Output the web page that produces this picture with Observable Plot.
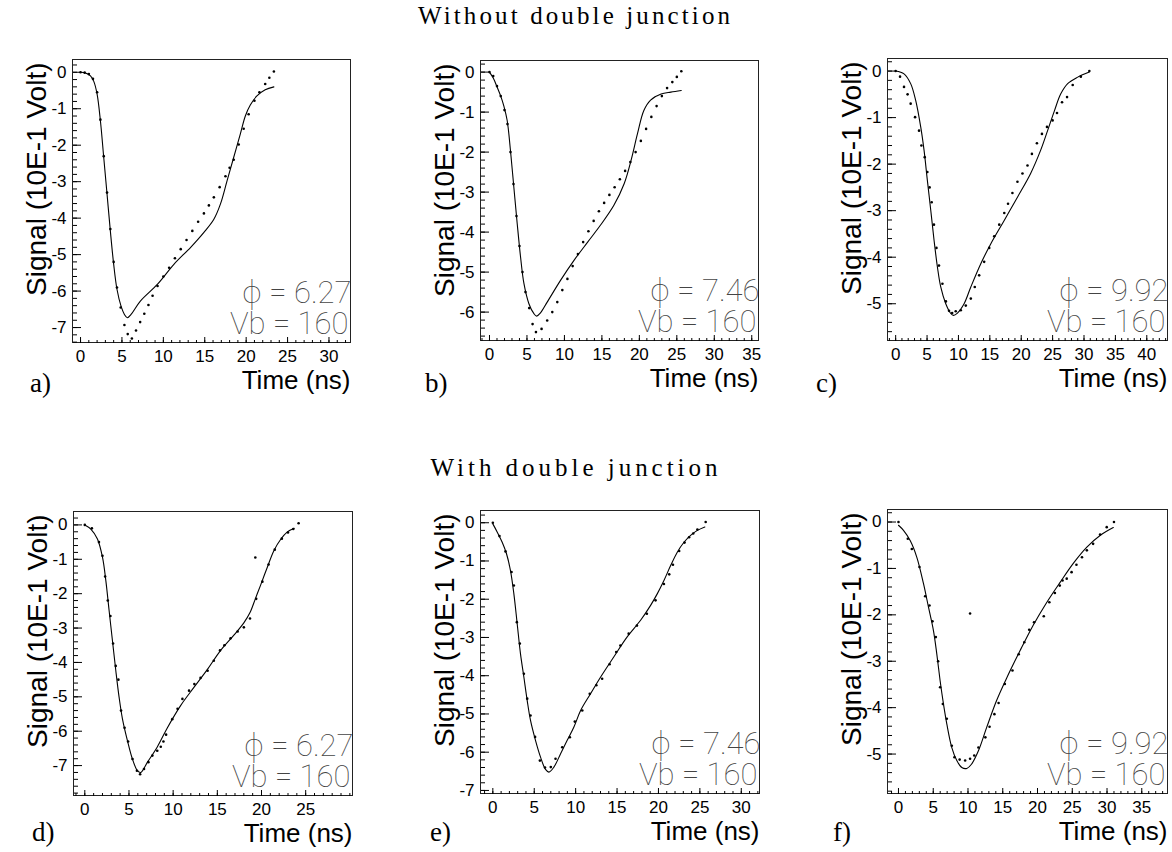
<!DOCTYPE html>
<html><head><meta charset="utf-8">
<script src="https://cdn.jsdelivr.net/npm/d3@7"></script>
<script src="https://cdn.jsdelivr.net/npm/@observablehq/plot@0.6"></script>
<style>
body{margin:0;background:#fff}
#root{position:relative;width:1172px;height:852px;overflow:hidden;background:#fff}
#root svg.panel{position:absolute}
</style>
</head><body><div id="root"></div>
<script>
// ---------- data ----------
const titleTop = "Without double junction";
const titleBottom = "With double junction";
const yLabel = "Signal (10E-1 Volt)";
const xLabel = "Time (ns)";
const panelLetters = ["a)","b)","c)","d)","e)","f)"];
const phiValues = ["6.27","7.46","9.92","6.27","7.46","9.92"];
const vbValues = ["160","160","160","160","160","160"];

const aXTicks = [0,5,10,15,20,25,30];
const bXTicks = [0,5,10,15,20,25,30,35];
const cXTicks = [0,5,10,15,20,25,30,35,40];
const dXTicks = [0,5,10,15,20,25];
const eXTicks = [0,5,10,15,20,25,30];
const fXTicks = [0,5,10,15,20,25,30,35];
const aYTicks = [0,-1,-2,-3,-4,-5,-6,-7];
const bYTicks = [0,-1,-2,-3,-4,-5,-6];
const cYTicks = [0,-1,-2,-3,-4,-5];
const dYTicks = [0,-1,-2,-3,-4,-5,-6,-7];
const eYTicks = [0,-1,-2,-3,-4,-5,-6,-7];
const fYTicks = [0,-1,-2,-3,-4,-5];

// solid curves (simulation) [time ns, signal]
const aCurve = [[0,0],[0.6,-0.02],[1.2,-0.1],[1.6,-0.25],[2.0,-0.6],[2.4,-1.33],[2.8,-2.33],[3.2,-3.34],[3.6,-4.35],[4.0,-5.26],[4.4,-5.95],[4.9,-6.42],[5.3,-6.64],[5.65,-6.73],[6.1,-6.64],[7.2,-6.28],[9.3,-5.81],[11.3,-5.26],[13.3,-4.8],[14.9,-4.39],[16.1,-4.03],[16.9,-3.61],[17.7,-2.97],[18.5,-2.33],[19.3,-1.69],[19.9,-1.2],[20.5,-0.9],[21.3,-0.65],[22.3,-0.48],[23.35,-0.4]];
const bCurve = [[0,0],[0.5,-0.15],[1.03,-0.38],[1.5,-0.6],[1.92,-0.85],[2.36,-1.21],[2.8,-1.96],[3.25,-2.88],[3.7,-3.79],[4.15,-4.63],[4.6,-5.29],[5.26,-5.79],[5.93,-6.04],[6.3,-6.1],[6.8,-6.02],[7.7,-5.75],[9.5,-5.2],[11.3,-4.7],[13.1,-4.25],[14.8,-3.83],[16.6,-3.33],[17.97,-2.79],[18.9,-2.2],[19.75,-1.54],[20.6,-0.96],[21.5,-0.7],[22.9,-0.55],[24.2,-0.5],[25.6,-0.46]];
const cCurve = [[0,0],[1.33,-0.06],[2.39,-0.27],[3.19,-0.63],[3.99,-1.2],[4.52,-1.7],[5.05,-2.35],[5.59,-2.99],[6.12,-3.64],[6.65,-4.21],[7.18,-4.64],[7.98,-5.0],[8.78,-5.21],[9.2,-5.25],[9.84,-5.2],[10.9,-5.0],[11.97,-4.64],[13.56,-4.14],[15.16,-3.71],[17.29,-3.21],[19.4,-2.71],[21.5,-2.2],[23.1,-1.7],[24.2,-1.28],[25.3,-0.85],[26.3,-0.49],[27.4,-0.27],[29.0,-0.13],[30.85,-0.02]];
const dCurve = [[0,0],[0.68,-0.12],[1.43,-0.41],[2.0,-0.94],[2.38,-1.62],[2.75,-2.49],[3.13,-3.37],[3.51,-4.24],[3.88,-5.01],[4.26,-5.64],[4.83,-6.28],[5.39,-6.81],[5.96,-7.15],[6.33,-7.2],[7.09,-6.9],[8.22,-6.45],[9.35,-5.9],[10.86,-5.25],[12.37,-4.72],[13.88,-4.2],[15.38,-3.65],[16.9,-3.2],[18.0,-2.85],[18.7,-2.55],[19.3,-2.15],[19.9,-1.75],[20.66,-1.23],[21.4,-0.75],[22.2,-0.41],[22.9,-0.21],[23.7,-0.1]];
const eCurve = [[0,-0.03],[0.52,-0.24],[1.13,-0.51],[1.65,-0.81],[2.13,-1.25],[2.54,-1.86],[2.94,-2.64],[3.34,-3.43],[3.75,-4.04],[4.15,-4.65],[4.55,-5.17],[5.15,-5.69],[5.76,-6.13],[6.36,-6.45],[6.77,-6.52],[7.37,-6.39],[8.18,-6.04],[8.98,-5.69],[9.79,-5.34],[10.6,-4.91],[11.8,-4.47],[13.0,-4.04],[14.6,-3.51],[16.2,-2.99],[17.84,-2.55],[19.05,-2.16],[19.85,-1.86],[20.66,-1.51],[21.47,-1.12],[22.27,-0.77],[23.08,-0.51],[23.88,-0.33],[24.7,-0.2],[25.6,-0.11]];
const fCurve = [[0,-0.07],[0.72,-0.18],[1.68,-0.4],[2.64,-0.76],[3.6,-1.33],[4.31,-1.83],[5.03,-2.34],[5.51,-2.84],[5.99,-3.42],[6.47,-3.92],[6.95,-4.35],[7.67,-4.86],[8.39,-5.14],[9.11,-5.29],[9.83,-5.31],[10.5,-5.22],[11.5,-4.93],[12.7,-4.42],[14.1,-3.85],[15.6,-3.35],[17.5,-2.77],[19.4,-2.22],[21.3,-1.74],[23.25,-1.3],[25.2,-0.88],[27.1,-0.54],[29.0,-0.29],[30.9,-0.12]];

// dotted points (measurement) [time ns, signal]
const aDots = [[0,0],[0.5,-0.01],[1.0,-0.05],[1.5,-0.18],[2.0,-0.55],[2.4,-1.3],[2.8,-2.3],[3.2,-3.3],[3.6,-4.3],[4.0,-5.2],[4.4,-5.9],[4.85,-6.45],[5.3,-6.93],[5.7,-7.18],[6.2,-7.3],[6.7,-7.08],[7.2,-6.85],[7.7,-6.62],[8.2,-6.38],[8.7,-6.13],[9.3,-5.86],[10.0,-5.6],[10.7,-5.36],[11.4,-5.1],[12.1,-4.85],[12.8,-4.6],[13.5,-4.35],[14.2,-4.1],[14.9,-3.87],[15.5,-3.65],[16.1,-3.43],[16.8,-3.15],[17.5,-2.85],[18.0,-2.62],[18.5,-2.4],[19.1,-1.98],[19.7,-1.55],[20.3,-1.15],[21.0,-0.78],[21.6,-0.55],[22.3,-0.32],[22.8,-0.15],[23.35,0.02]];
const bDots = [[0,0],[0.5,-0.1],[1.0,-0.35],[1.5,-0.6],[2.0,-0.95],[2.4,-1.3],[2.8,-2.0],[3.2,-2.8],[3.6,-3.6],[4.0,-4.35],[4.4,-5.0],[4.8,-5.5],[5.3,-5.9],[5.75,-6.3],[6.2,-6.5],[6.95,-6.42],[7.7,-6.21],[8.38,-6.0],[9.05,-5.75],[9.72,-5.45],[10.4,-5.17],[11.1,-4.85],[11.8,-4.55],[12.5,-4.25],[13.2,-3.98],[13.9,-3.72],[14.6,-3.48],[15.3,-3.27],[16.0,-3.07],[16.7,-2.88],[17.4,-2.68],[18.1,-2.47],[18.8,-2.25],[19.5,-2.0],[20.2,-1.72],[20.9,-1.42],[21.6,-1.12],[22.3,-0.85],[23.0,-0.6],[23.7,-0.4],[24.4,-0.25],[25.0,-0.12],[25.6,0.02]];
const cDots = [[0,0],[0.7,-0.12],[1.33,-0.34],[1.9,-0.5],[2.39,-0.7],[3.09,-0.99],[3.72,-1.28],[4.1,-1.6],[4.63,-1.85],[5.05,-2.17],[5.4,-2.5],[5.74,-2.82],[6.1,-3.3],[6.5,-3.8],[6.9,-4.18],[7.45,-4.57],[8.0,-4.95],[8.5,-5.15],[9.0,-5.2],[9.57,-5.16],[10.37,-5.14],[11.17,-5.04],[11.97,-4.89],[12.6,-4.64],[13.3,-4.39],[14.1,-4.1],[14.9,-3.8],[15.7,-3.55],[16.5,-3.3],[17.3,-3.05],[17.9,-2.85],[18.6,-2.62],[19.4,-2.38],[20.2,-2.2],[21.0,-2.03],[21.7,-1.78],[22.5,-1.55],[23.3,-1.35],[24.1,-1.2],[25.0,-1.06],[25.7,-0.9],[26.5,-0.67],[27.3,-0.56],[28.2,-0.3],[29.5,-0.12],[30.85,0]];
const dDots = [[0,0],[0.8,-0.1],[1.6,-0.5],[2.0,-0.9],[2.3,-1.5],[2.6,-2.2],[2.9,-2.65],[3.2,-3.45],[3.5,-4.1],[3.8,-4.5],[4.1,-5.4],[4.5,-5.9],[4.9,-6.3],[5.4,-6.81],[5.9,-7.15],[6.26,-7.25],[6.7,-7.1],[7.2,-6.9],[7.65,-6.71],[8.2,-6.57],[8.6,-6.45],[8.9,-6.3],[9.2,-6.1],[9.9,-5.65],[10.5,-5.35],[11.05,-5.06],[11.8,-4.82],[12.4,-4.63],[13.1,-4.45],[13.9,-4.24],[14.6,-3.95],[15.3,-3.65],[15.8,-3.5],[16.5,-3.3],[17.3,-3.1],[18.0,-2.98],[18.7,-2.72],[19.4,-2.15],[20.1,-1.65],[20.8,-1.15],[21.5,-0.72],[22.3,-0.4],[23.0,-0.22],[23.6,-0.12],[24.2,0.05],[19.3,-0.95]];
const eDots = [[0,0],[0.8,-0.35],[1.53,-0.75],[2.26,-1.29],[2.54,-1.64],[2.9,-2.6],[3.26,-3.16],[3.75,-3.95],[4.15,-4.6],[4.55,-5.04],[5.1,-5.6],[5.68,-6.22],[6.3,-6.4],[7.0,-6.39],[7.57,-6.17],[8.38,-5.87],[9.3,-5.61],[9.9,-5.2],[10.8,-4.91],[11.7,-4.47],[12.5,-4.25],[13.2,-4.08],[14.1,-3.7],[14.9,-3.38],[15.4,-3.21],[16.4,-2.9],[17.4,-2.69],[18.6,-2.38],[19.65,-2.03],[20.66,-1.6],[21.3,-1.35],[21.75,-1.1],[22.5,-0.74],[23.15,-0.52],[23.7,-0.38],[24.2,-0.28],[24.7,-0.18],[25.7,0.02]];
const fDots = [[0,0],[1.34,-0.36],[1.92,-0.58],[3.02,-0.97],[3.84,-1.6],[4.46,-1.8],[4.89,-2.14],[5.37,-2.48],[5.7,-3.0],[5.99,-3.56],[6.38,-3.92],[6.95,-4.24],[7.67,-4.82],[8.05,-5.07],[8.8,-5.12],[9.59,-5.14],[10.3,-5.1],[10.9,-5.03],[11.5,-4.86],[12.5,-4.64],[13.1,-4.41],[13.8,-4.14],[14.4,-3.9],[15.3,-3.49],[16.4,-3.2],[17.3,-2.85],[18.1,-2.59],[18.8,-2.32],[19.5,-2.16],[20.9,-2.03],[21.7,-1.73],[22.5,-1.53],[23.2,-1.37],[23.6,-1.26],[24.2,-1.22],[24.9,-1.08],[25.6,-0.92],[26.4,-0.76],[27.1,-0.61],[28.0,-0.47],[29.0,-0.27],[29.96,-0.11],[31.0,0],[10.3,-1.97]];

// ---------- layout ----------
const panels = [
  {curve:aCurve, dots:aDots, xTicks:aXTicks, yTicks:aYTicks, xDomain:[-0.97,32.6], yDomain:[-7.41,0.35], frame:[72,59,350,342]},
  {curve:bCurve, dots:bDots, xTicks:bXTicks, yTicks:bYTicks, xDomain:[-1.2,35.9], yDomain:[-6.71,0.29], frame:[480,60,758,340]},
  {curve:cCurve, dots:cDots, xTicks:cXTicks, yTicks:cYTicks, xDomain:[-1.3,43.3], yDomain:[-5.79,0.27], frame:[887,58,1167,340]},
  {curve:dCurve, dots:dDots, xTicks:dXTicks, yTicks:dYTicks, xDomain:[-1.28,30.3], yDomain:[-7.87,0.39], frame:[73,511,352,795]},
  {curve:eCurve, dots:eDots, xTicks:eXTicks, yTicks:eYTicks, xDomain:[-1.49,32.2], yDomain:[-7.08,0.32], frame:[480,510,759,793]},
  {curve:fCurve, dots:fDots, xTicks:fXTicks, yTicks:fYTicks, xDomain:[-1.58,38.7], yDomain:[-5.85,0.27], frame:[887,509,1167,793]}
];
const letterPos = [[30,392],[425,392],[816,392],[32,841],[430,841],[833,841]];

const root = document.getElementById("root");

// titles and panel letters
const serif = "Liberation Serif, Times New Roman, serif";
const over = d3.select(root).append("svg")
  .attr("width",1172).attr("height",852)
  .style("position","absolute").style("left","0px").style("top","0px");
over.append("text").attr("x",574).attr("y",24).attr("text-anchor","middle")
  .attr("font-family",serif).attr("font-size",25)
  .attr("textLength",312).attr("lengthAdjust","spacing").text(titleTop);
over.append("text").attr("x",574).attr("y",476).attr("text-anchor","middle")
  .attr("font-family",serif).attr("font-size",25)
  .attr("textLength",287).attr("lengthAdjust","spacing").text(titleBottom);
panelLetters.forEach((t,i)=>{
  over.append("text").attr("x",letterPos[i][0]).attr("y",letterPos[i][1])
    .attr("font-family",serif).attr("font-size",27).text(t);
});

const annFont = "Roboto, 'Noto Sans', 'DejaVu Sans', sans-serif";
panels.forEach((p,i)=>{
  const [L,T,R,B] = p.frame;
  const mL=75, mR=6, mT=8, mB=56;
  const W=R-L, H=B-T;
  const xMinor = d3.range(Math.ceil(p.xDomain[0]), Math.floor(p.xDomain[1])+1);
  const yMinor = d3.range(Math.ceil(p.yDomain[0]*5), Math.floor(p.yDomain[1]*5)+1).map(k=>k/5);
  const fig = Plot.plot({
    width:W+mL+mR, height:H+mT+mB,
    marginLeft:mL, marginRight:mR, marginTop:mT, marginBottom:mB,
    x:{domain:p.xDomain, label:null},
    y:{domain:p.yDomain, label:null},
    style:{fontFamily:"Liberation Sans, Arial, sans-serif", background:"transparent", overflow:"visible", color:"#000"},
    marks:[
      Plot.frame({stroke:"#222", strokeWidth:1}),
      Plot.axisX(xMinor, {anchor:"top", dy:H, tickSize:3, tickFormat:()=>"", stroke:"#000"}),
      Plot.axisX(p.xTicks, {anchor:"top", dy:H, tickSize:6, tickFormat:()=>"", stroke:"#000"}),
      Plot.axisX(p.xTicks, {anchor:"bottom", tickSize:0, tickPadding:7, tickFormat:d=>String(d), fontSize:17, fill:"#000"}),
      Plot.axisY(yMinor, {anchor:"right", dx:-W, tickSize:4, tickFormat:()=>"", stroke:"#000"}),
      Plot.axisY(p.yTicks, {anchor:"right", dx:-W, tickSize:8, tickFormat:()=>"", stroke:"#000"}),
      Plot.axisY(p.yTicks, {anchor:"left", tickSize:0, tickPadding:6, tickFormat:d=>String(d), fontSize:17, fill:"#000"}),
      Plot.line(p.curve, {x:d=>d[0], y:d=>d[1], curve:"catmull-rom", stroke:"#000", strokeWidth:1.1}),
      Plot.dot(p.dots, {x:d=>d[0], y:d=>d[1], r:1.3, fill:"#000"}),
      Plot.text([yLabel], {text:d=>d, frameAnchor:"top-left", rotate:-90, textAnchor:"end", dx:-46, dy:3, fontSize:28, fill:"#000"}),
      Plot.text([xLabel], {text:d=>d, frameAnchor:"bottom-right", textAnchor:"end", lineAnchor:"bottom", dy:46, fontSize:26, fill:"#000"}),
      Plot.text([`\u03d5 = ${phiValues[i]}`], {text:d=>d, frameAnchor:"bottom-right", textAnchor:"end", lineAnchor:"bottom", dy:-40, dx:1, fontSize:31, fontFamily:annFont, fontWeight:100, fill:"#444"}),
      Plot.text([`Vb = ${vbValues[i]}`], {text:d=>d, frameAnchor:"bottom-right", textAnchor:"end", lineAnchor:"bottom", dy:-9, dx:-2, fontSize:31, fontFamily:annFont, fontWeight:100, fill:"#444"})
    ]
  });
  fig.classList.add("panel");
  fig.style.left = (L-mL)+"px";
  fig.style.top = (T-mT)+"px";
  root.appendChild(fig);
});
</script>
</body></html>
